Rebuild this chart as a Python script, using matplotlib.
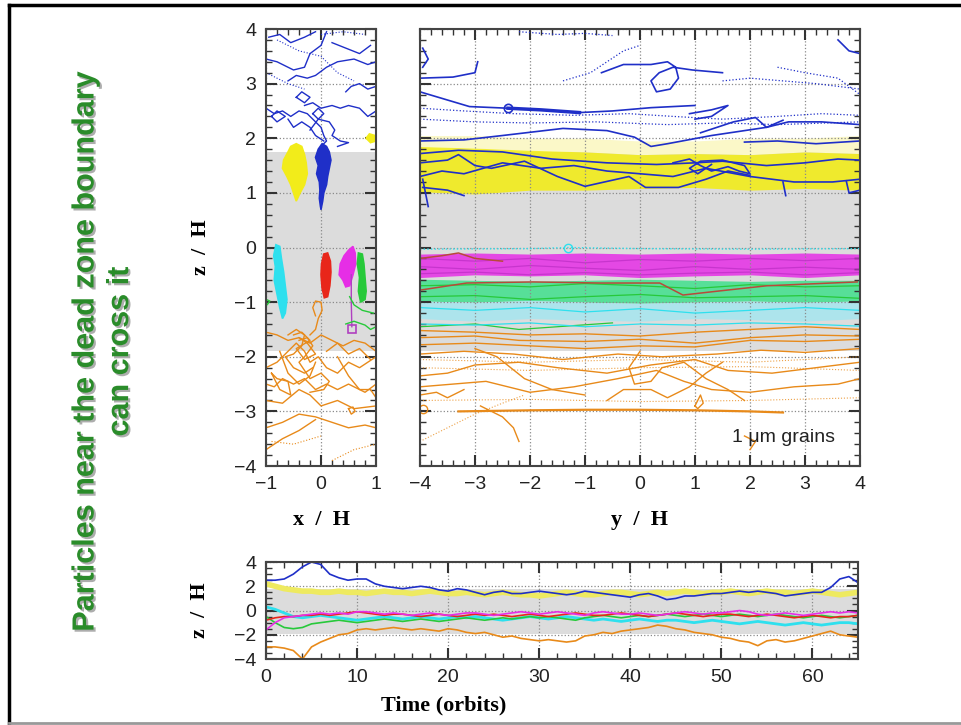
import matplotlib
matplotlib.use("Agg")
import matplotlib.pyplot as plt
import matplotlib.patheffects as pe
from matplotlib.lines import Line2D
from matplotlib.ticker import MultipleLocator

plt.rcParams['font.family'] = ['Liberation Sans', 'DejaVu Sans']

# colours of the particle families
c_blue = '#1f2fc8'
c_yellow = '#f2ec1a'
c_cyan = '#2ee0ee'
c_red = '#e8261a'
c_magenta = '#e62ee6'
c_green = '#27c93a'
c_orange = '#e88a1a'
c_gray = '#dcdcdc'

# dead zone (gray) limits in z/H
dead_lo, dead_hi = -1.9, 1.75

# ---------------- left panel: x/H vs z/H ----------------
left_blue = [
    [(-1, 2.55), (-0.85, 2.45), (-0.7, 2.5), (-0.55, 2.4), (-0.4, 2.5), (-0.25, 2.45), (-0.1, 2.3), (0.0, 2.2), (0.05, 2.05), (0.1, 1.95), (0.0, 1.85)],
    [(-0.3, 2.6), (-0.15, 2.65), (0.0, 2.55), (0.2, 2.6), (0.35, 2.55), (0.5, 2.6), (0.7, 2.55), (0.85, 2.4), (1.0, 2.5)],
    [(-0.2, 2.15), (-0.05, 2.35), (0.15, 2.3), (0.25, 2.15), (0.2, 2.05), (0.35, 1.95), (0.5, 1.92), (0.3, 1.85)],
    [(-0.6, 3.05), (-0.45, 3.15), (-0.25, 3.1), (-0.1, 3.15), (0.1, 3.3), (0.3, 3.4), (0.6, 3.45), (0.85, 3.35), (1.0, 3.4)],
    [(-1.0, 3.45), (-0.8, 3.4), (-0.5, 3.25), (-0.3, 3.3), (-0.2, 3.55), (0.0, 3.7), (0.1, 3.95)],
    [(-0.45, 2.75), (-0.35, 2.85), (-0.2, 2.75), (-0.3, 2.65), (-0.45, 2.75)],
    [(0.45, 2.85), (0.55, 2.95), (0.7, 3.0), (0.85, 2.9), (1.0, 2.95)],
    [(-0.95, 3.85), (-0.75, 3.9), (-0.55, 3.75), (-0.3, 3.85), (-0.1, 3.95)],
    [(0.2, 3.75), (0.45, 3.65), (0.7, 3.55), (0.9, 3.7)],
    [(-0.9, 2.4), (-0.8, 2.3), (-0.65, 2.4), (-0.8, 2.5), (-0.9, 2.4)],
    [(-0.15, 2.45), (-0.05, 2.35), (0.05, 2.45), (-0.05, 2.55), (-0.15, 2.45)],
    [(-0.6, 2.35), (-0.5, 2.2), (-0.35, 2.3), (-0.2, 2.2), (-0.1, 2.05), (0.05, 1.95)],
    [(0.0, 0.7), (0.0, 0.95), (0.03, 1.05)],
]
left_blue_dotted = [
    [(-0.8, 3.8), (-0.4, 3.6), (0.0, 3.5), (0.3, 3.2), (0.6, 3.05)],
    [(-1.0, 3.2), (-0.6, 3.0), (-0.3, 2.9)],
    [(0.0, 3.9), (0.4, 3.95), (0.8, 3.9)],
]
left_blue_blob = [(0.0, 0.7), (0.03, 0.85), (0.05, 1.0), (0.1, 1.15), (0.12, 1.3), (0.15, 1.45), (0.18, 1.6),
                  (0.15, 1.75), (0.1, 1.85), (0.02, 1.9), (-0.05, 1.8), (-0.1, 1.65), (-0.05, 1.5),
                  (-0.08, 1.35), (-0.03, 1.2), (-0.02, 1.05), (-0.03, 0.9), (-0.01, 0.75)]
left_yellow_blob = [(-0.45, 0.85), (-0.38, 1.0), (-0.3, 1.15), (-0.25, 1.35), (-0.27, 1.55), (-0.3, 1.7),
                    (-0.35, 1.85), (-0.45, 1.9), (-0.55, 1.85), (-0.6, 1.75), (-0.68, 1.6), (-0.7, 1.45),
                    (-0.62, 1.3), (-0.55, 1.15), (-0.5, 1.0)]
left_yellow_small = [(0.82, 2.0), (0.88, 2.08), (0.98, 2.05), (1.0, 1.95), (0.9, 1.92)]
left_cyan_blob = [(-0.82, 0.05), (-0.75, 0.02), (-0.72, -0.2), (-0.68, -0.45), (-0.65, -0.7), (-0.62, -0.95),
                  (-0.65, -1.2), (-0.7, -1.3), (-0.75, -1.1), (-0.8, -0.85), (-0.85, -0.6), (-0.83, -0.35),
                  (-0.86, -0.15)]
left_red_blob = [(0.05, -0.12), (0.12, -0.1), (0.17, -0.25), (0.18, -0.45), (0.16, -0.7), (0.12, -0.9),
                 (0.06, -0.92), (0.02, -0.75), (0.0, -0.5), (0.01, -0.3)]
left_magenta_blob = [(0.35, -0.3), (0.42, -0.15), (0.5, -0.05), (0.58, 0.02), (0.62, -0.1), (0.63, -0.3),
                     (0.58, -0.5), (0.52, -0.7), (0.45, -0.72), (0.4, -0.6), (0.33, -0.5)]
left_magenta_lines = [[(0.55, -0.5), (0.55, -1.0), (0.56, -1.45)]]
left_green_blob = [(0.68, -0.1), (0.75, -0.12), (0.78, -0.3), (0.8, -0.55), (0.82, -0.8), (0.8, -0.95),
                   (0.72, -1.0), (0.68, -0.8), (0.7, -0.55), (0.66, -0.3)]
left_green_lines = [
    [(0.45, -1.4), (0.6, -1.35), (0.8, -1.42), (0.9, -1.5), (1.0, -1.45)],
    [(0.52, -0.9), (0.6, -1.05), (0.75, -1.15), (0.95, -1.2)],
    [(-1.0, -0.95), (-0.93, -0.98), (-0.98, -1.05), (-1.0, -1.0)],
]
left_orange = [
    [(-0.1, -1.25), (-0.15, -1.1), (-0.1, -0.98), (0.0, -1.0), (0.02, -1.15), (-0.05, -1.3), (-0.1, -1.5), (-0.2, -1.6)],
    [(-1.0, -1.55), (-0.8, -1.6), (-0.6, -1.7), (-0.4, -1.65), (-0.2, -1.75), (0.0, -1.6), (0.2, -1.7), (0.4, -1.8), (0.6, -1.7), (0.8, -1.75), (1.0, -1.9)],
    [(-1.0, -2.2), (-0.8, -2.1), (-0.6, -1.9), (-0.45, -1.75), (-0.3, -1.9), (-0.2, -2.1), (-0.05, -2.0), (0.1, -2.2), (0.3, -2.3), (0.5, -2.1), (0.7, -2.2), (1.0, -2.0)],
    [(-1.0, -2.5), (-0.85, -2.55), (-0.7, -2.4), (-0.5, -2.5), (-0.3, -2.4), (-0.1, -2.6), (0.1, -2.5), (0.3, -2.6), (0.5, -2.5), (0.8, -2.65), (1.0, -2.5)],
    [(-0.6, -1.6), (-0.45, -1.5), (-0.3, -1.6), (-0.35, -1.8), (-0.5, -1.95), (-0.65, -2.0), (-0.5, -2.2), (-0.3, -2.3), (-0.15, -2.2)],
    [(-0.4, -1.7), (-0.25, -1.65), (-0.15, -1.8), (-0.3, -2.0), (-0.4, -2.1), (-0.2, -2.4), (0.0, -2.3), (0.15, -2.45), (0.05, -2.6), (-0.2, -2.65)],
    [(-1.0, -2.8), (-0.7, -2.85), (-0.4, -2.6), (-0.2, -2.7), (0.0, -2.9), (0.3, -2.8), (0.6, -2.95), (1.0, -2.9)],
    [(-1.0, -3.3), (-0.7, -3.2), (-0.4, -3.05), (-0.1, -3.1), (0.2, -3.2), (0.5, -3.3), (0.8, -3.25), (1.0, -3.3)],
    [(0.5, -2.95), (0.55, -3.05), (0.62, -3.0), (0.58, -2.92), (0.5, -2.95)],
    [(-1.0, -3.7), (-0.7, -3.5), (-0.4, -3.35), (-0.1, -3.15)],
    [(0.3, -2.0), (0.5, -2.35), (0.7, -2.6), (0.9, -2.6), (1.0, -2.75)],
    [(-0.9, -2.3), (-0.75, -2.6), (-0.55, -2.7), (-0.6, -2.45), (-0.8, -2.4), (-0.9, -2.3)],
    [(0.1, -1.9), (0.3, -1.75), (0.5, -1.95), (0.7, -1.85), (0.9, -2.05)],
    [(-0.5, -1.6), (-0.35, -1.55), (-0.2, -1.7), (-0.45, -1.85), (-0.3, -2.05), (-0.1, -1.95), (-0.25, -1.75), (-0.4, -1.65)],
    [(-0.75, -1.9), (-0.6, -2.3), (-0.4, -2.5), (-0.2, -2.35), (-0.1, -2.1)],
]
left_orange_dotted = [
    [(-0.9, -3.55), (-0.5, -3.6), (0.0, -3.45)],
    [(0.2, -3.9), (0.6, -3.7), (1.0, -3.6)],
]

# ---------------- right panel: y/H vs z/H ----------------
band_y = [-4, -3, -2, -1, 0, 1, 2, 3, 4]
yellow_top = [1.85, 1.82, 1.78, 1.75, 1.7, 1.72, 1.7, 1.75, 1.72]
yellow_bot = [1.02, 0.98, 1.05, 1.05, 1.08, 1.1, 1.05, 1.08, 1.05]
pale_top = [2.05, 2.05, 2.0, 2.0, 1.95, 1.95, 2.0, 2.0, 2.05]
magenta_top = [-0.12, -0.1, -0.12, -0.1, -0.12, -0.1, -0.12, -0.1, -0.12]
magenta_bot = [-0.55, -0.5, -0.52, -0.5, -0.55, -0.52, -0.5, -0.55, -0.5]
green_top = [-0.58, -0.6, -0.62, -0.6, -0.58, -0.6, -0.62, -0.6, -0.6]
green_bot = [-0.98, -1.0, -0.97, -1.0, -1.02, -1.0, -0.98, -1.0, -0.98]
cyan_bot = [-1.3, -1.35, -1.3, -1.33, -1.35, -1.3, -1.32, -1.35, -1.3]

right_blue = [
    [(-4, 2.85), (-3.5, 2.7), (-3.1, 2.58), (-2.4, 2.55), (-1.8, 2.52), (-1.1, 2.47), (-0.5, 2.5), (0.2, 2.56), (1.0, 2.6)],
    [(-4, 1.95), (-3.2, 1.97), (-2.5, 2.05), (-1.4, 2.18), (-0.6, 2.14), (-0.1, 2.02), (0.2, 1.85), (0.5, 1.9), (1.3, 2.05), (2.3, 2.2), (2.6, 2.33)],
    [(1.9, 1.93), (2.5, 1.95), (3.2, 1.9), (4, 1.95)],
    [(-4, 1.3), (-3.6, 1.4), (-3.2, 1.35), (-2.5, 1.55), (-1.8, 1.45), (-1.2, 1.5), (-0.6, 1.4), (0, 1.35), (0.6, 1.3), (1.2, 1.45), (2.0, 1.3), (2.8, 1.2), (3.5, 1.2), (4, 1.25)],
    [(-4, 1.55), (-3.5, 1.6), (-3.3, 1.7), (-3.0, 1.5), (-2.7, 1.45), (-2.1, 1.58), (-1.5, 1.3), (-1.0, 1.12), (-0.2, 1.3), (0.1, 1.1), (0.7, 1.1), (1.2, 1.25), (1.6, 1.4), (2.0, 1.32)],
    [(-4, 1.72), (-3.3, 1.78), (-2.5, 1.75), (-1.6, 1.62), (-0.6, 1.55), (0.3, 1.52), (1.0, 1.55), (1.5, 1.58), (2.3, 1.5), (3.0, 1.55), (3.6, 1.62), (4, 1.6)],
    [(0.6, 1.55), (0.9, 1.62), (1.1, 1.5), (1.3, 1.4), (1.6, 1.48), (1.8, 1.4), (2.0, 1.35), (1.9, 1.5), (1.5, 1.6), (1.1, 1.58), (0.9, 1.45), (1.05, 1.35), (1.3, 1.52)],
    [(-3.95, 1.25), (-3.9, 1.0), (-3.85, 0.75)],
    [(-3.95, 1.1), (-3.5, 1.05), (-3.2, 0.95)],
    [(2.6, 1.2), (2.65, 0.95)],
    [(3.75, 1.22), (3.8, 1.0), (4, 1.05)],
    [(-0.7, 3.2), (-0.3, 3.35), (0.2, 3.35), (0.5, 3.4), (0.65, 3.3), (0.7, 3.1), (0.55, 2.9), (0.3, 2.85), (0.2, 3.05), (0.35, 3.2), (0.6, 3.3), (0.95, 3.25), (1.5, 3.2)],
    [(-3.95, 3.65), (-3.85, 3.45), (-3.95, 3.3)],
    [(-4, 3.1), (-3.4, 3.12), (-3.0, 3.2), (-2.95, 3.4)],
    [(0.9, 2.45), (1.3, 2.52), (1.6, 2.6), (1.3, 2.4), (1.0, 2.35)],
    [(1.1, 2.1), (1.7, 2.3), (2.1, 2.38), (2.3, 2.2), (2.7, 2.3), (3.3, 2.3), (4, 2.25)],
    [(3.6, 3.8), (3.8, 3.6), (4, 3.55)],
]
right_blue_thick = [[(-2.4, 2.55), (-1.8, 2.52), (-1.1, 2.47)]]
right_blue_dotted = [
    [(-1.4, 3.05), (-0.9, 3.2), (-0.3, 3.6), (0.0, 3.7)],
    [(1.5, 3.05), (2.0, 3.1), (2.6, 3.05), (3.2, 3.0), (4, 2.9)],
    [(2.5, 3.3), (3.0, 3.2), (3.6, 3.1), (4, 2.8)],
    [(-4, 2.55), (-3.2, 2.5), (-2.3, 2.45), (-1.2, 2.42), (-0.2, 2.45), (0.6, 2.4), (1.5, 2.35), (2.5, 2.4), (3.3, 2.45), (4, 2.42)],
    [(-4, 2.35), (-3.0, 2.3), (-2, 2.28), (-0.8, 2.3), (0.5, 2.25), (1.5, 2.28), (2.5, 2.25), (4, 2.3)],
    [(-2.2, 3.95), (-1.5, 3.9), (-1.0, 3.92), (-0.5, 3.88)],
]
right_cyan_dotted = [[(-4, -0.03), (-2, -0.02), (-1.3, 0.0), (0, -0.02), (2, -0.03), (4, -0.02)]]
right_magenta = [
    [(-4, -0.2), (-3, -0.25), (-2, -0.2), (-1, -0.28), (0, -0.22), (1, -0.25), (2, -0.2), (3, -0.24), (4, -0.2)],
    [(-4, -0.35), (-3, -0.4), (-2, -0.33), (-1, -0.38), (0, -0.42), (1, -0.35), (2, -0.4), (3, -0.36), (4, -0.4)],
    [(-4, -0.48), (-3, -0.45), (-2, -0.5), (-1, -0.46), (0, -0.5), (1, -0.47), (2, -0.45), (3, -0.5), (4, -0.46)],
]
right_red = [
    [(-4, -0.2), (-3.6, -0.15), (-3.3, -0.1), (-3.0, -0.2), (-2.5, -0.25)],
    [(-4, -0.78), (-3.15, -0.65), (-1.95, -0.63), (-0.73, -0.65), (0.36, -0.65), (0.78, -0.87), (1.4, -0.8), (2.31, -0.7), (3.95, -0.63)],
]
right_green = [
    [(-4, -0.7), (-3, -0.68), (-2, -0.72), (-1, -0.66), (0, -0.7), (1, -0.75), (2, -0.68), (3, -0.72), (4, -0.7)],
    [(-4, -0.9), (-3, -0.88), (-2, -0.95), (-1, -0.9), (0, -0.86), (1, -0.92), (2, -0.9), (3, -0.88), (4, -0.93)],
    [(-4, -1.45), (-3, -1.4), (-2.2, -1.5), (-1.5, -1.45), (-0.5, -1.38)],
]
right_cyan = [
    [(-4, -1.1), (-3, -1.15), (-2, -1.1), (-1, -1.18), (0, -1.12), (1, -1.2), (2, -1.15), (3, -1.1), (4, -1.15)],
    [(-4, -1.4), (-3, -1.42), (-2, -1.38), (-1, -1.45), (0, -1.4), (1, -1.42), (2, -1.38), (3, -1.4), (4, -1.44)],
]
right_orange = [
    [(-4, -1.52), (-3, -1.55), (-2, -1.6), (-1, -1.58), (0, -1.62), (1, -1.55), (2, -1.5), (3, -1.45), (4, -1.5)],
    [(-4, -1.65), (-3, -1.62), (-2.2, -1.7), (-1, -1.72), (0, -1.68), (1, -1.75), (2, -1.65), (3, -1.6), (4, -1.62)],
    [(-4, -1.78), (-3, -1.75), (-2, -1.8), (-1, -1.85), (0, -1.8), (1, -1.82), (2, -1.7), (3, -1.72), (4, -1.68)],
    [(-4, -1.95), (-3.2, -1.9), (-2.3, -1.95), (-1.4, -2.05), (-0.4, -1.95), (0.4, -2.0), (1.4, -1.95), (2.2, -1.88), (3, -1.92), (4, -1.85)],
    [(-4, -2.35), (-3.5, -2.3), (-3.0, -2.15), (-2.2, -2.1), (-1.5, -2.2), (-0.6, -2.3), (0.2, -2.15), (1.0, -2.05), (1.6, -2.25), (2.4, -2.3), (3.2, -2.2), (4, -2.1)],
    [(-4, -2.55), (-3.4, -2.5), (-2.8, -2.45), (-2.0, -2.65), (-1.2, -2.55), (-0.4, -2.4), (0.3, -2.25), (0.8, -2.45), (1.3, -2.6), (2.0, -2.65), (2.8, -2.55), (3.6, -2.5), (4, -2.4)],
    [(0.0, -1.9), (-0.2, -2.2), (-0.1, -2.5), (0.2, -2.45), (0.4, -2.2), (0.8, -2.1), (1.2, -2.4), (1.6, -2.6), (1.9, -2.8)],
    [(-0.6, -2.8), (-0.3, -2.6), (0.2, -2.6), (0.5, -2.75), (0.9, -2.55), (1.2, -2.3), (1.5, -2.1)],
    [(-4, -2.7), (-3.7, -2.65), (-3.5, -2.75), (-3.2, -2.6)],
    [(1.0, -2.9), (1.1, -2.7), (1.15, -2.85), (1.05, -2.95), (1.0, -2.9)],
    [(-2.2, -3.55), (-2.3, -3.3), (-2.5, -3.1), (-2.9, -2.9)],
    [(-3.0, -1.85), (-2.6, -2.0), (-2.1, -2.4), (-1.6, -2.6), (-1.0, -2.7)],
    [(1.9, -3.45), (2.1, -3.55), (2.0, -3.7)],
]
right_orange_thick = [[(-3.3, -3.0), (-2.0, -2.98), (-1.0, -2.97), (0.0, -2.97), (1.0, -2.98), (2.0, -3.0), (2.6, -3.02)]]
right_orange_dotted = [
    [(-4, -3.55), (-3.5, -3.3), (-3.0, -3.05), (-2.5, -2.85), (-2.1, -2.7)],
    [(-4, -2.05), (-2, -2.1), (0, -2.05), (2, -2.1), (4, -2.0)],
    [(-4, -2.8), (-2, -2.78), (0, -2.82), (2, -2.8), (4, -2.75)],
    [(-4, -2.2), (-2, -2.25), (0, -2.2), (2, -2.18), (4, -2.25)],
]

# ---------------- bottom panel: z/H vs time ----------------
time = list(range(66))
blue_t = [2.5, 2.5, 2.6, 3.0, 3.6, 4.0, 3.8, 3.0, 2.7, 2.5, 2.6, 2.6, 2.2, 2.0, 1.9, 1.8, 1.9, 2.0, 1.9, 1.7,
          1.6, 1.8, 1.7, 1.5, 1.3, 1.5, 1.6, 1.4, 1.4, 1.5, 1.6, 1.5, 1.4, 1.3, 1.4, 1.6, 1.5, 1.4, 1.3, 1.2,
          1.1, 1.3, 1.4, 1.2, 0.9, 1.0, 1.2, 1.2, 1.3, 1.4, 1.4, 1.5, 1.6, 1.5, 1.6, 1.5, 1.4, 1.2, 1.3, 1.4,
          1.5, 1.5, 1.9, 2.6, 2.8, 2.3]
yellow_t = [2.2, 2.0, 1.8, 1.7, 1.6, 1.6, 1.5, 1.5, 1.6, 1.5, 1.5, 1.4, 1.5, 1.6, 1.5, 1.5, 1.4, 1.5, 1.6, 1.5,
            1.4, 1.4, 1.5, 1.4, 1.3, 1.4, 1.5, 1.4, 1.3, 1.3, 1.2, 1.3, 1.4, 1.5, 1.4, 1.3, 1.3, 1.4, 1.5, 1.5,
            1.4, 1.3, 1.4, 1.5, 1.4, 1.5, 1.6, 1.5, 1.4, 1.5, 1.5, 1.6, 1.5, 1.4, 1.5, 1.6, 1.5, 1.5, 1.4, 1.5,
            1.6, 1.5, 1.4, 1.3, 1.4, 1.5]
magenta_t = [-1.6, -1.0, -0.6, -0.5, -0.4, -0.3, -0.2, -0.3, -0.2, -0.3, -0.1, -0.1, -0.2, -0.3, -0.2, -0.3,
             -0.4, -0.3, -0.2, -0.3, -0.4, -0.3, -0.2, -0.2, -0.3, -0.4, -0.3, -0.2, -0.1, -0.2, -0.3, -0.2,
             -0.1, -0.2, -0.3, -0.4, -0.2, -0.1, -0.2, -0.3, -0.3, -0.2, -0.3, -0.4, -0.3, -0.2, -0.1, -0.2,
             -0.3, -0.2, -0.2, -0.1, 0.0, -0.1, -0.3, -0.4, -0.3, -0.2, -0.3, -0.4, -0.3, -0.2, -0.1, -0.2,
             -0.1, -0.2]
red_t = [-0.8, -0.6, -0.5, -0.5, -0.4, -0.4, -0.3, -0.4, -0.3, -0.2, -0.1, -0.2, -0.3, -0.4, -0.3, -0.3,
         -0.4, -0.5, -0.4, -0.3, -0.4, -0.5, -0.4, -0.3, -0.4, -0.3, -0.4, -0.5, -0.4, -0.3, -0.4, -0.5,
         -0.4, -0.3, -0.2, -0.3, -0.4, -0.4, -0.3, -0.2, -0.3, -0.4, -0.5, -0.4, -0.3, -0.2, -0.3, -0.4,
         -0.5, -0.4, -0.3, -0.3, -0.4, -0.5, -0.4, -0.3, -0.4, -0.5, -0.6, -0.5, -0.4, -0.5, -0.6, -0.5,
         -0.5, -0.4]
cyan_t = [0.3, 0.1, -0.2, -0.5, -0.6, -0.5, -0.4, -0.5, -0.6, -0.7, -0.8, -0.7, -0.6, -0.5, -0.6, -0.7,
          -0.6, -0.5, -0.6, -0.7, -0.6, -0.5, -0.6, -0.5, -0.6, -0.7, -0.8, -0.7, -0.6, -0.5, -0.6, -0.7,
          -0.6, -0.5, -0.6, -0.7, -0.8, -0.7, -0.8, -0.9, -0.8, -0.7, -0.8, -0.9, -0.8, -0.8, -0.9, -1.0,
          -0.9, -0.8, -0.9, -1.0, -1.1, -1.0, -0.9, -1.0, -1.1, -1.2, -1.1, -1.0, -1.1, -1.2, -1.1, -1.0,
          -1.0, -1.1]
green_t = [-0.5, -1.0, -1.4, -1.5, -1.4, -1.1, -1.0, -0.9, -0.8, -0.9, -1.0, -0.9, -0.8, -0.7, -0.8, -0.9,
           -0.8, -0.7, -0.8, -0.9, -0.8, -0.7, -0.6, -0.7, -0.8, -0.7, -0.6, -0.7, -0.6, -0.5, -0.6, -0.5,
           -0.6, -0.7, -0.8, -0.6, -0.5, -0.4, -0.5, -0.6, -0.5, -0.4, -0.5, -0.4, -0.3, -0.4, -0.5, -0.4,
           -0.3, -0.4, -0.5, -0.4, -0.3, -0.4, -0.5, -0.4, -0.3, -0.4, -0.5, -0.6, -0.5, -0.4, -0.5, -0.6,
           -0.5, -0.4]
orange_t = [-3.0, -3.0, -3.1, -3.3, -4.0, -3.0, -2.6, -2.3, -2.0, -1.9, -1.6, -1.5, -1.6, -1.5, -1.4, -1.5,
            -1.6, -1.5, -1.6, -1.7, -1.5, -1.6, -1.8, -1.9, -1.8, -2.0, -2.2, -2.1, -2.3, -2.4, -2.5, -2.4,
            -2.5, -2.6, -2.5, -2.1, -2.0, -1.8, -1.9, -1.7, -1.6, -1.5, -1.4, -1.2, -1.3, -1.5, -1.6, -1.8,
            -1.9, -2.0, -2.2, -2.3, -2.5, -2.6, -2.9, -2.5, -2.4, -2.6, -2.5, -2.3, -2.1, -1.9, -1.7, -2.0,
            -2.1, -2.2]


def draw(ax, paths, color, lw=1.0, ls='-', alpha=1.0):
    for p in paths:
        xs, zs = zip(*p)
        ax.plot(xs, zs, color=color, lw=lw, ls=ls, alpha=alpha)


def blob(ax, pts, color):
    xs, zs = zip(*pts)
    ax.fill(xs, zs, color=color, lw=1.2, ec=color, zorder=2)


def style(ax, xmaj, xmin, ymaj, ymin):
    ax.xaxis.set_major_locator(MultipleLocator(xmaj))
    ax.xaxis.set_minor_locator(MultipleLocator(xmin))
    ax.yaxis.set_major_locator(MultipleLocator(ymaj))
    ax.yaxis.set_minor_locator(MultipleLocator(ymin))
    ax.tick_params(which='both', direction='in', top=True, right=True, color='#333333',
                   labelcolor='#222222', labelsize=14, pad=7)
    ax.tick_params(which='major', length=8, width=1.5)
    ax.tick_params(which='minor', length=4, width=1)
    ax.grid(True, which='major', ls=':', color='#8a8a8a', lw=0.9)
    for s in ax.spines.values():
        s.set_linewidth(1.5)
        s.set_color('#444444')


lab = dict(family='Liberation Serif', weight='bold', size=16)

fig = plt.figure(figsize=(9.61, 7.25), dpi=100)

# slide frame
fig.add_artist(Line2D([0.009, 1.0], [0.993, 0.993], transform=fig.transFigure, color='black', lw=2.5))
fig.add_artist(Line2D([0.0095, 0.0095], [0.0, 0.993], transform=fig.transFigure, color='black', lw=2.5))
fig.add_artist(Line2D([0.009, 1.0], [0.003, 0.003], transform=fig.transFigure, color='#999999', lw=2))

# green caption
fig.text(0.107, 0.515, 'Particles near the dead zone boundary\ncan cross it', rotation=90,
         ha='center', va='center', color='#2a8c2a', fontsize=22, fontweight='bold',
         linespacing=1.2, multialignment='center',
         path_effects=[pe.SimplePatchShadow(offset=(1.5, -1.5), shadow_rgbFace='#777777', alpha=0.6),
                       pe.Normal()])

# left panel
ax1 = fig.add_axes([0.2768, 0.3572, 0.1145, 0.6028])
ax1.axhspan(dead_lo, dead_hi, color=c_gray, lw=0, zorder=0)
draw(ax1, left_blue_dotted, c_blue, lw=0.8, ls=':')
draw(ax1, left_blue, c_blue, lw=1.0)
draw(ax1, left_orange_dotted, c_orange, lw=0.8, ls=':')
draw(ax1, left_orange, c_orange, lw=1.0)
blob(ax1, left_yellow_blob, c_yellow)
blob(ax1, left_yellow_small, c_yellow)
blob(ax1, left_blue_blob, c_blue)
blob(ax1, left_cyan_blob, c_cyan)
blob(ax1, left_red_blob, c_red)
blob(ax1, left_magenta_blob, c_magenta)
blob(ax1, left_green_blob, c_green)
draw(ax1, left_magenta_lines, '#b040c0', lw=1.0)
draw(ax1, left_green_lines, c_green, lw=1.0)
ax1.plot([0.57], [-1.5], marker='s', ms=6, mfc='none', mec='#b040c0', mew=1.2)
ax1.set_xlim(-1, 1)
ax1.set_ylim(-4, 4)
style(ax1, 1, 0.2, 1, 0.2)
ax1.set_xlabel('x  /  H', **lab)
ax1.xaxis.set_label_coords(0.5, -0.1)
ax1.set_ylabel('z  /  H', **lab)
ax1.yaxis.set_label_coords(-0.5, 0.5)

# right panel
ax2 = fig.add_axes([0.4370, 0.3572, 0.4579, 0.6028])
ax2.axhspan(dead_lo, dead_hi, color=c_gray, lw=0, zorder=0)
ax2.fill_between(band_y, yellow_top, pale_top, color='#fbf8c8', lw=0, zorder=0.5)
ax2.fill_between(band_y, yellow_bot, yellow_top, color=c_yellow, lw=0, alpha=0.9, zorder=1)
ax2.fill_between(band_y, magenta_bot, magenta_top, color=c_magenta, lw=0, alpha=0.85, zorder=1)
ax2.fill_between(band_y, green_bot, green_top, color='#40e08c', lw=0, alpha=0.85, zorder=1)
ax2.fill_between(band_y, cyan_bot, green_bot, color='#a8e6ee', lw=0, alpha=0.9, zorder=1)
draw(ax2, right_blue_dotted, c_blue, lw=0.9, ls=':')
draw(ax2, right_blue, c_blue, lw=1.2)
draw(ax2, right_blue_thick, c_blue, lw=2.5)
ax2.plot([-2.4], [2.55], marker='o', ms=6, mfc='none', mec=c_blue, mew=1.2)
draw(ax2, right_cyan_dotted, c_cyan, lw=1.0, ls=':')
ax2.plot([-1.3], [0.0], marker='o', ms=6, mfc='none', mec=c_cyan, mew=1.0)
draw(ax2, right_magenta, '#c030c8', lw=0.9, alpha=0.8)
draw(ax2, right_green, c_green, lw=0.9)
draw(ax2, right_cyan, c_cyan, lw=0.9)
draw(ax2, right_red, '#b84a3a', lw=1.1)
draw(ax2, right_orange_dotted, c_orange, lw=0.8, ls=':', alpha=0.8)
draw(ax2, right_orange, c_orange, lw=1.0)
draw(ax2, right_orange_thick, c_orange, lw=1.6)
ax2.plot([-3.95], [-2.95], marker='o', ms=6, mfc='none', mec=c_orange, mew=1.0)
ax2.text(3.55, -3.47, '1 \u03bcm grains', ha='right', va='center', fontsize=14, color='#222222')
ax2.set_xlim(-4, 4)
ax2.set_ylim(-4, 4)
style(ax2, 1, 0.2, 1, 0.2)
ax2.tick_params(labelleft=False)
ax2.set_xlabel('y  /  H', **lab)
ax2.xaxis.set_label_coords(0.5, -0.1)

# bottom panel
ax3 = fig.add_axes([0.2768, 0.091, 0.616, 0.1338])
ax3.axhspan(dead_lo, dead_hi, color=c_gray, lw=0, zorder=0)
ax3.plot(time, yellow_t, color='#eeea60', lw=4)
ax3.plot(time, cyan_t, color=c_cyan, lw=2)
ax3.plot(time, green_t, color=c_green, lw=1.2)
ax3.plot(time, red_t, color=c_red, lw=1.2)
ax3.plot(time, magenta_t, color=c_magenta, lw=1.2)
ax3.plot(time, orange_t, color=c_orange, lw=1.2)
ax3.plot(time, blue_t, color=c_blue, lw=1.2)
ax3.set_xlim(0, 65)
ax3.set_ylim(-4, 4)
style(ax3, 10, 2, 2, 0.5)
ax3.set_xlabel('Time (orbits)', **lab)
ax3.xaxis.set_label_coords(0.3, -0.38)
ax3.set_ylabel('z  /  H', **lab)
ax3.yaxis.set_label_coords(-0.095, 0.5)

plt.savefig('out.png', dpi=100)
